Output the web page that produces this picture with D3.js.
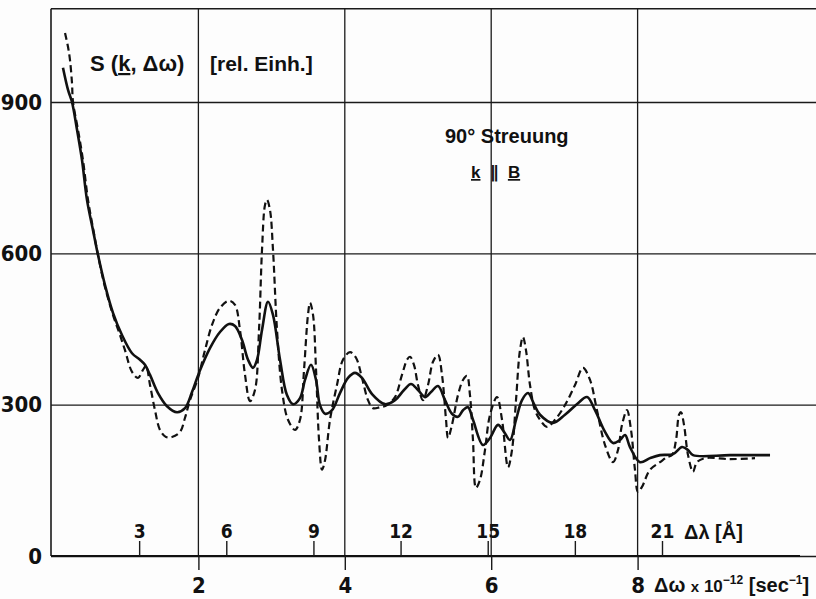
<!DOCTYPE html>
<html>
<head>
<meta charset="utf-8">
<script src="https://cdn.jsdelivr.net/npm/d3@7"></script>
<style>
  body { margin: 0; background: #fdfdfd; }
  svg { font-family: "Liberation Sans", "DejaVu Sans", sans-serif; }
  .axis path { display: none; }
  .axis line { stroke: #1a1a1a; stroke-width: 1.4; }
  .axis text { fill: #111; font-family: "Liberation Sans Narrow", "DejaVu Sans Condensed", sans-serif; font-size: 22px; font-weight: bold; }
  .lam text { font-size: 19px; }
</style>
</head>
<body>
<div id="graph"></div>
<script>
// y ticks (rel. units), delta omega ticks (1e12 / sec), delta lambda ticks (Angstrom)
const sTicks = [0, 300, 600, 900];
const omegaTicks = [2, 4, 6, 8];
const lambdaTicks = [3, 6, 9, 12, 15, 18, 21];

// solid curve: delta omega and S values
const solidOmega = [0.150, 0.219, 0.273, 0.342, 0.410, 0.478, 0.560, 0.628, 0.724, 0.833, 0.956, 1.093, 1.202, 1.270, 1.339, 1.448, 1.571, 1.708, 1.817, 1.913,
  2.008, 2.158, 2.295, 2.418, 2.500, 2.596, 2.678, 2.746, 2.801, 2.869, 2.951, 3.019, 3.115, 3.210, 3.292, 3.388, 3.456, 3.538, 3.607, 3.661,
  3.730, 3.825, 3.934, 4.044, 4.139, 4.235, 4.372, 4.549, 4.686, 4.809, 4.904, 5.000, 5.096, 5.178, 5.273, 5.369, 5.464, 5.546, 5.615, 5.683,
  5.751, 5.888, 5.984, 6.093, 6.175, 6.257, 6.339, 6.421, 6.503, 6.585, 6.667, 6.844, 7.008, 7.186, 7.309, 7.418, 7.555, 7.664, 7.760, 7.828,
  7.896, 8.033, 8.169, 8.306, 8.484, 8.607, 8.689, 8.757, 9.262, 9.809];
const solidS = [968, 924, 900, 845, 785, 706, 646, 597, 537, 482, 438, 402, 389, 379, 359, 323, 297, 285, 293, 325,
  363, 412, 444, 460, 456, 428, 389, 373, 389, 448, 504, 478, 389, 319, 301, 313, 349, 379, 349, 299,
  282, 289, 323, 353, 363, 353, 321, 301, 309, 329, 341, 329, 315, 325, 337, 309, 282, 276, 289, 295,
  270, 220, 234, 260, 246, 230, 270, 309, 323, 301, 280, 264, 280, 303, 315, 289, 246, 224, 230, 240,
  216, 186, 194, 200, 202, 216, 210, 200, 200, 200];

// dashed curve: delta omega and S values
const dashOmega = [0.178, 0.219, 0.246, 0.273, 0.287, 0.355, 0.423, 0.492, 0.560, 0.628, 0.724, 0.833, 0.929, 0.997, 1.093, 1.175, 1.243, 1.284, 1.339, 1.407,
  1.475, 1.557, 1.639, 1.749, 1.817, 1.885, 1.995, 2.090, 2.186, 2.295, 2.418, 2.500, 2.568, 2.637, 2.705, 2.773, 2.828, 2.869, 2.910, 2.937,
  2.978, 3.019, 3.074, 3.142, 3.224, 3.320, 3.388, 3.443, 3.497, 3.525, 3.566, 3.607, 3.648, 3.689, 3.730, 3.798, 3.893, 3.975, 4.071, 4.153,
  4.235, 4.317, 4.385, 4.481, 4.577, 4.686, 4.781, 4.850, 4.891, 4.945, 5.000, 5.068, 5.137, 5.205, 5.273, 5.328, 5.383, 5.410, 5.464, 5.546,
  5.615, 5.669, 5.710, 5.751, 5.792, 5.847, 5.915, 5.984, 6.079, 6.148, 6.230, 6.284, 6.339, 6.393, 6.434, 6.475, 6.530, 6.598, 6.667, 6.762,
  6.872, 7.008, 7.145, 7.254, 7.350, 7.445, 7.555, 7.664, 7.732, 7.787, 7.855, 7.910, 7.964, 8.005, 8.060, 8.169, 8.306, 8.402, 8.470, 8.525,
  8.566, 8.593, 8.634, 8.689, 8.757, 8.811, 8.921, 9.262, 9.604];
const dashS = [1037, 1009, 983, 938, 900, 845, 785, 706, 650, 597, 533, 478, 438, 408, 365, 353, 369, 377, 339, 289,
  250, 236, 236, 246, 274, 309, 353, 408, 458, 492, 506, 498, 448, 359, 307, 329, 448, 607, 696, 706,
  686, 607, 448, 329, 270, 250, 270, 369, 478, 502, 478, 369, 230, 171, 190, 270, 339, 389, 404, 393,
  353, 309, 293, 295, 299, 315, 359, 389, 395, 379, 339, 309, 339, 385, 399, 359, 270, 234, 260, 319,
  349, 357, 319, 230, 135, 151, 210, 280, 315, 270, 176, 210, 309, 408, 434, 408, 339, 289, 270, 256,
  270, 299, 339, 373, 349, 289, 220, 186, 210, 260, 289, 250, 171, 127, 137, 171, 186, 196, 200, 230,
  280, 285, 260, 200, 167, 186, 194, 192, 194];

const solidData = solidOmega.map((w, i) => ({ w: w, s: solidS[i] }));
const dashData = dashOmega.map((w, i) => ({ w: w, s: dashS[i] }));

const w = 816, h = 599;
const svg = d3.select("#graph").append("svg")
    .attr("width", w)
    .attr("height", h);

// scales
const xScale = d3.scaleLinear().domain([0, 10]).range([52, 784]);
const lamScale = d3.scaleLinear().domain([0, 21]).range([52, 662]);
const yScale = d3.scaleLinear().domain([0, 900]).range([556, 102]);

const yTop = yScale(1085);
const xRight = 816;

// frame: top line and left axis
svg.append("line")
    .attr("x1", 51).attr("x2", xRight)
    .attr("y1", yTop).attr("y2", yTop)
    .attr("stroke", "#1a1a1a").attr("stroke-width", 1.6);
svg.append("line")
    .attr("x1", 51).attr("x2", 51)
    .attr("y1", yTop).attr("y2", yScale(0))
    .attr("stroke", "#1a1a1a").attr("stroke-width", 1.6);

// horizontal gridlines + labels
const yAxisG = svg.append("g")
    .attr("class", "axis")
    .attr("transform", "translate(51,0)")
    .call(d3.axisLeft(yScale).tickValues(sTicks).tickSize(-(xRight - 51)).tickPadding(9).tickFormat(d3.format("d")));
yAxisG.selectAll("line").attr("stroke-width", d => d === 0 ? 0 : 1.3);

// vertical gridlines at omega ticks
svg.selectAll(".vgrid")
    .data(omegaTicks)
    .enter()
    .append("line")
    .attr("class", "vgrid")
    .attr("x1", d => xScale(d)).attr("x2", d => xScale(d))
    .attr("y1", yTop).attr("y2", yScale(0))
    .attr("stroke", "#1a1a1a").attr("stroke-width", 1.3);

// bottom axis line
svg.append("line")
    .attr("x1", 51).attr("x2", 800)
    .attr("y1", yScale(0)).attr("y2", yScale(0))
    .attr("stroke", "#111").attr("stroke-width", 2);

// omega axis (below)
svg.append("g")
    .attr("class", "axis")
    .attr("transform", `translate(0,${yScale(0)})`)
    .call(d3.axisBottom(xScale).tickValues(omegaTicks).tickSize(14).tickPadding(7));

// lambda axis (ticks pointing up)
svg.append("g")
    .attr("class", "axis lam")
    .attr("transform", `translate(0,${yScale(0)})`)
    .call(d3.axisTop(lamScale).tickValues(lambdaTicks).tickSize(15).tickPadding(3));

// curves
const lineGenerator = d3.line()
    .x(d => xScale(d.w))
    .y(d => yScale(d.s))
    .curve(d3.curveCatmullRom.alpha(0.5));

svg.append("path")
    .attr("d", lineGenerator(dashData))
    .attr("fill", "none")
    .attr("stroke", "#111")
    .attr("stroke-width", 2.2)
    .attr("stroke-dasharray", "7,4");

svg.append("path")
    .attr("d", lineGenerator(solidData))
    .attr("fill", "none")
    .attr("stroke", "#111")
    .attr("stroke-width", 2.6);

// texts
const title = svg.append("text")
    .attr("x", 90).attr("y", 71)
    .attr("font-size", 22).attr("font-weight", "bold").attr("fill", "#111");
title.append("tspan").text("S (");
title.append("tspan").attr("text-decoration", "underline").text("k");
title.append("tspan").text(", Δω)");

svg.append("text")
    .attr("x", 210).attr("y", 71)
    .attr("font-size", 21).attr("font-weight", "bold").attr("fill", "#111")
    .text("[rel. Einh.]");

svg.append("text")
    .attr("x", 445).attr("y", 143)
    .attr("font-size", 20).attr("font-weight", "bold").attr("fill", "#111")
    .text("90° Streuung");

const kb = svg.append("text")
    .attr("x", 471).attr("y", 178)
    .attr("font-size", 17).attr("font-weight", "bold").attr("fill", "#111")
    .attr("xml:space", "preserve");
kb.append("tspan").attr("text-decoration", "underline").text("k");
kb.append("tspan").text("  ∥  ");
kb.append("tspan").attr("text-decoration", "underline").text("B");

svg.append("text")
    .attr("x", 684).attr("y", 539)
    .attr("font-size", 20).attr("font-weight", "bold").attr("fill", "#111")
    .text("Δλ [Å]");

const wl = svg.append("text")
    .attr("x", 654).attr("y", 592)
    .attr("font-size", 20).attr("font-weight", "bold").attr("fill", "#111");
wl.append("tspan").text("Δω ");
wl.append("tspan").attr("font-size", 15).text("x");
wl.append("tspan").attr("font-size", 17).text(" 10");
wl.append("tspan").attr("font-size", 12).attr("dy", -8).text("−12");
wl.append("tspan").attr("dy", 8).text(" [sec");
wl.append("tspan").attr("font-size", 12).attr("dy", -8).text("−1");
wl.append("tspan").attr("dy", 8).text("]");
</script>
</body>
</html>
